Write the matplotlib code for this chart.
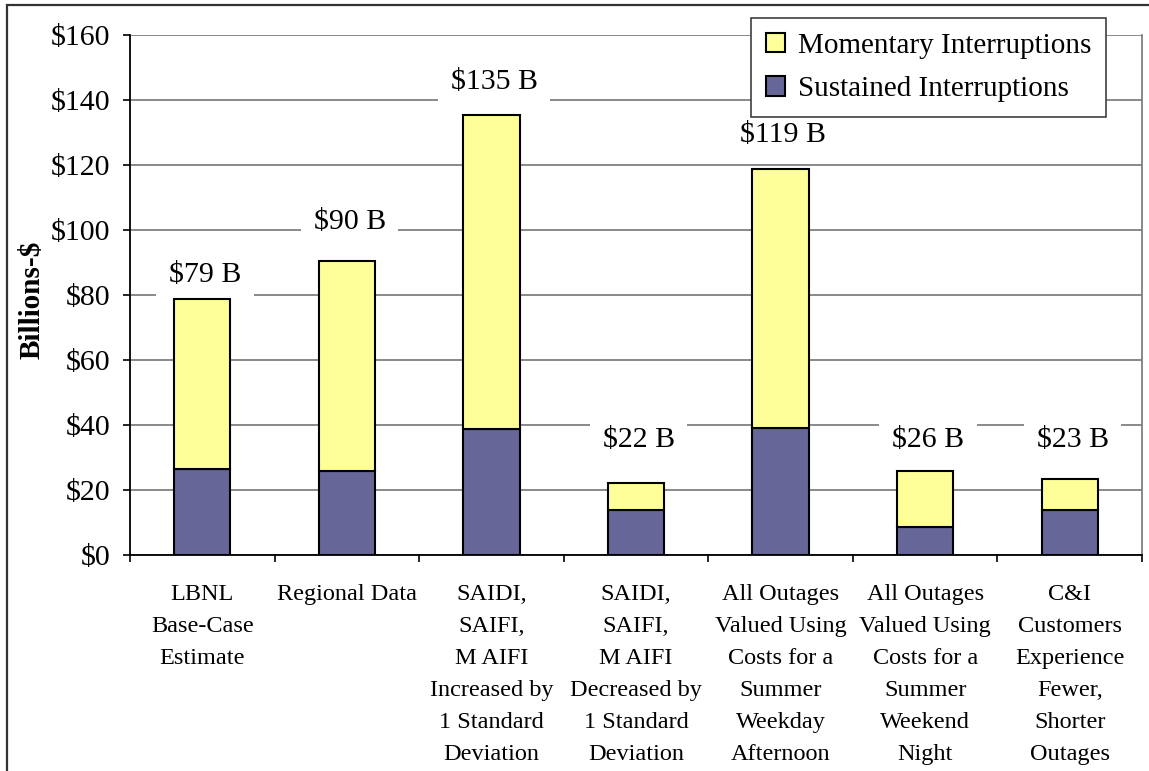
import numpy as np
import matplotlib.pyplot as plt
from matplotlib.patches import Rectangle, Patch

plt.rcParams['font.family'] = ['Liberation Serif', 'DejaVu Serif']

categories = ["LBNL\nBase-Case\nEstimate",
              "Regional Data",
              "SAIDI,\nSAIFI,\nM AIFI\nIncreased by\n1 Standard\nDeviation",
              "SAIDI,\nSAIFI,\nM AIFI\nDecreased by\n1 Standard\nDeviation",
              "All Outages\nValued Using\nCosts for a\nSummer\nWeekday\nAfternoon",
              "All Outages\nValued Using\nCosts for a\nSummer\nWeekend\nNight",
              "C&I\nCustomers\nExperience\nFewer,\nShorter\nOutages"]
sustained = [26.5, 25.8, 38.8, 13.8, 39.2, 8.6, 13.8]
momentary = [52.4, 64.6, 96.7, 8.4, 79.6, 17.2, 9.6]
totals_txt = ["$79 B", "$90 B", "$135 B", "$22 B", "$119 B", "$26 B", "$23 B"]
label_y = [86.2, 102.5, 145.5, 35.4, 129.2, 35.4, 35.4]
yticks = [0, 20, 40, 60, 80, 100, 120, 140, 160]

purple = "#666699"
yellow = "#FFFF99"

fig = plt.figure(figsize=(11.49, 7.71), dpi=100)
ax = fig.add_axes([130/1149, 1-555/771, 1012/1149, 520/771])
ax.set_axisbelow(True)

x = np.arange(len(categories))
w = 0.39
ax.bar(x, sustained, w, color=purple, edgecolor="black", lw=1.5, zorder=3)
ax.bar(x, momentary, w, bottom=sustained, color=yellow, edgecolor="black", lw=1.5, zorder=3)

for xi, t, yy in zip(x, totals_txt, label_y):
    ax.text(xi + 0.02, yy, t, ha="center", va="center", fontsize=21.5, zorder=2,
            bbox=dict(boxstyle="square,pad=0.42", facecolor="white", edgecolor="none"))

ax.set_xlim(-0.5, len(categories) - 0.5)
ax.set_ylim(0, 160)
ax.set_yticks(yticks)
ax.set_yticklabels(["$%d" % v for v in yticks], fontsize=21.5)
ax.yaxis.grid(True, color="#808080", lw=1.3)
ax.tick_params(axis="y", direction="out", length=5, width=1.2, pad=9)

ax.set_xticks(x)
ax.set_xticklabels(categories, fontsize=17.5, linespacing=1.68, va="top")
ax.set_xticks(np.arange(-0.5, len(categories)), minor=True)
ax.tick_params(axis="x", which="major", length=0, pad=21)
ax.tick_params(axis="x", which="minor", direction="out", length=5, width=1.2)

ax.spines["top"].set_visible(False)
ax.spines["right"].set_color("#808080")
ax.spines["right"].set_linewidth(1.3)
ax.spines["left"].set_linewidth(1.3)
ax.spines["bottom"].set_linewidth(1.3)

ax.set_ylabel("Billions-$", fontsize=21, fontweight="bold", va="center")
ax.yaxis.set_label_coords(-0.097, 0.49)

handles = [Patch(facecolor=yellow, edgecolor="black", lw=1.5),
           Patch(facecolor=purple, edgecolor="black", lw=1.5)]
leg = fig.legend(handles, ["Momentary Interruptions", "Sustained Interruptions"],
                 loc="upper right", bbox_to_anchor=(1106/1149, 1-18/771),
                 bbox_transform=fig.transFigure, fontsize=21, fancybox=False,
                 framealpha=1, edgecolor="#404040", borderaxespad=0,
                 handlelength=0.65, handleheight=0.65, handletextpad=0.45,
                 borderpad=0.5, labelspacing=0.6)
leg.get_frame().set_linewidth(1.2)

fig.patches.append(Rectangle((7/1149, -0.1), 1.2, 1.1 - 5/771, transform=fig.transFigure,
                             fill=False, edgecolor="#333333", lw=1.6))

fig.savefig("out.png", dpi=100)
